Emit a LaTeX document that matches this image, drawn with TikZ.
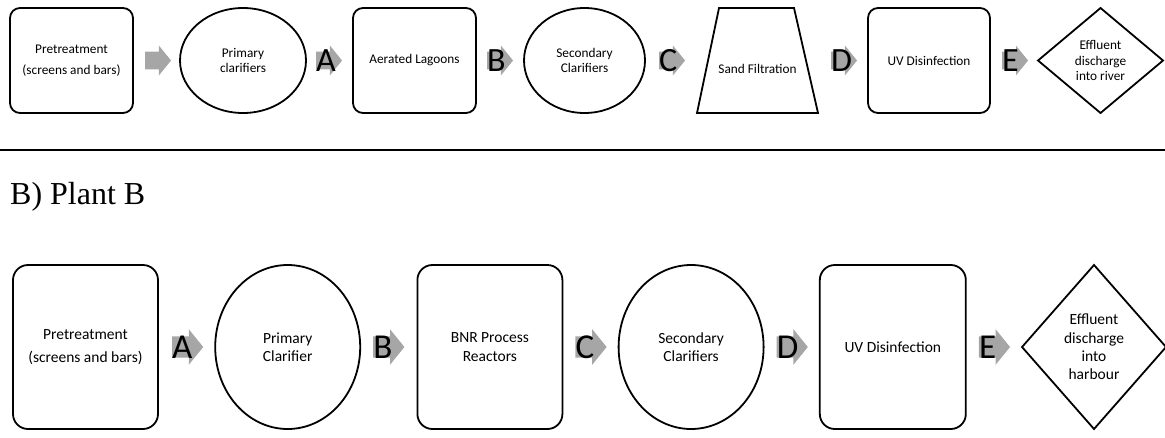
\documentclass[tikz,border=0pt]{standalone}
\usepackage{fontspec}
\setmainfont{Carlito}
\newfontfamily\headfont{Liberation Serif}
\usetikzlibrary{positioning,shapes.geometric,shapes.arrows}

\definecolor{arrowgray}{RGB}{166,166,166}

\tikzset{
  unit/.style={draw, line width=1.8pt, outer sep=0pt, align=center},
  procbox/.style={unit, rectangle, rounded corners=#1},
  tank/.style={unit, ellipse, inner sep=1pt},
  outfall/.style={unit, diamond, inner sep=1pt},
  rowa/.style={font=\fontsize{13.3}{15.5}\selectfont},
  rowb/.style={font=\fontsize{15.5}{18.3}\selectfont},
  flow/.style={single arrow, fill=arrowgray, outer sep=0pt,
    inner xsep=0pt, inner ysep=#1*8.65pt,
    minimum height=#1*26pt, minimum width=#1*29.3pt,
    single arrow head extend=#1*6pt, single arrow tip angle=102},
  flow/.default=1,
  flowtag/.style={anchor=west, inner sep=0pt, font=\fontsize{#1}{#1}\selectfont},
  flowtag/.default=34
}

\begin{document}
\begin{tikzpicture}
      \useasboundingbox (0pt,0pt) rectangle (1165pt,-437pt);
      %% Plant A
      \node[procbox=10pt, rowa, minimum width=123pt, minimum height=105pt] (pretreatA) at (71.5pt,-60.5pt) {Pretreatment\\[5.5pt](screens and bars)};
      \node[flow, right=12pt of pretreatA] (flowA0) {};
      \node[tank, rowa, minimum width=126pt, minimum height=105pt, right=9pt of flowA0] (primaryA) {Primary\\clarifiers};
      \node[flow, right=10pt of primaryA] (flowA1) {};
      \node[procbox=10pt, rowa, minimum width=123pt, minimum height=105pt, right=11pt of flowA1] (lagoonA) {Aerated Lagoons};
      \node[flow, right=11pt of lagoonA] (flowA2) {};
      \node[tank, rowa, minimum width=121pt, minimum height=105pt, right=11pt of flowA2] (secondaryA) {Secondary\\Clarifiers};
      \node[flow, right=14pt of secondaryA] (flowA3) {};
      \node[rowa, outer sep=0pt, minimum width=121pt, minimum height=105pt, text height=26pt, right=12pt of flowA3] (sandA) {Sand Filtration};
      \draw[line width=1.8pt] (sandA.south west) -- ([xshift=22pt]sandA.north west) -- ([xshift=-24pt]sandA.north east) -- (sandA.south east) -- cycle;
      \node[flow, right=13pt of sandA] (flowA4) {};
      \node[procbox=10pt, rowa, minimum width=122pt, minimum height=105pt, right=11pt of flowA4] (uvA) {UV Disinfection};
      \node[flow, right=12pt of uvA] (flowA5) {};
      \node[outfall, rowa, minimum width=125pt, minimum height=105pt, right=10pt of flowA5] (outletA) {Effluent\\discharge\\into river};
      %% Stream letters
      \node[flowtag] (tagA1) at (flowA1.west) {A};
      \node[flowtag] (tagA2) at (flowA2.west) {B};
      \node[flowtag] (tagA3) at (flowA3.west) {C};
      \node[flowtag] (tagA4) at (flowA4.west) {D};
      \node[flowtag] (tagA5) at (flowA5.west) {E};
      %% Separator and heading
      \coordinate (ruleL) at (0pt,-150pt);
      \coordinate (ruleR) at (1165pt,-150pt);
      \draw[line width=1.8pt] (ruleL) -- (ruleR);
      \node[anchor=base west, inner sep=0pt, font=\headfont\fontsize{32}{36}\selectfont] (plantB) at (10pt,-204pt) {B) Plant B};
      %% Plant B
      \node[procbox=15pt, rowb, minimum width=145pt, minimum height=164pt] (pretreatB) at (85.5pt,-347pt) {Pretreatment\\[4.5pt](screens and bars)};
      \node[flow=1.2, right=14pt of pretreatB] (flowB1) {};
      \node[tank, rowb, minimum width=145pt, minimum height=164pt, right=12pt of flowB1] (primaryB) {Primary\\Clarifier};
      \node[flow=1.2, right=13pt of primaryB] (flowB2) {};
      \node[procbox=15pt, rowb, minimum width=145pt, minimum height=164pt, right=13pt of flowB2] (bnrB) {BNR Process\\Reactors};
      \node[flow=1.2, right=13pt of bnrB] (flowB3) {};
      \node[tank, rowb, minimum width=145pt, minimum height=164pt, right=12pt of flowB3] (secondaryB) {Secondary\\Clarifiers};
      \node[flow=1.2, right=13pt of secondaryB] (flowB4) {};
      \node[procbox=15pt, rowb, minimum width=146pt, minimum height=164pt, right=12pt of flowB4] (uvB) {UV Disinfection};
      \node[flow=1.2, right=13pt of uvB] (flowB5) {};
      \node[outfall, rowb, minimum width=144pt, minimum height=164pt, right=12pt of flowB5] (outletB) {Effluent\\discharge\\into\\harbour};
      \node[flowtag=35] (tagB1) at (flowB1.west) {A};
      \node[flowtag=35] (tagB2) at (flowB2.west) {B};
      \node[flowtag=35] (tagB3) at (flowB3.west) {C};
      \node[flowtag=35] (tagB4) at (flowB4.west) {D};
      \node[flowtag=35] (tagB5) at (flowB5.west) {E};
\end{tikzpicture}
\end{document}
